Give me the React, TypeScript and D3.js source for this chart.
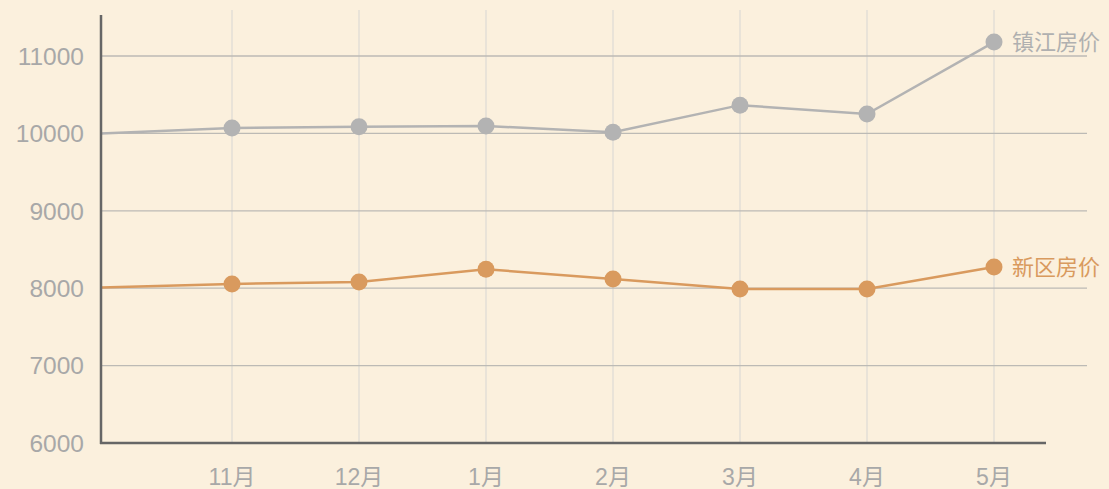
import React from 'react';
import * as d3 from 'd3';

// months (first one has no dot / label, the line just comes in from the axis)
const months = ['10月', '11月', '12月', '1月', '2月', '3月', '4月', '5月'];
const zhenjiang = [10000, 10070, 10085, 10095, 10015, 10365, 10250, 11180];
const xinqu = [8010, 8055, 8080, 8245, 8120, 7990, 7990, 8275];
const yTicks = [6000, 7000, 8000, 9000, 10000, 11000];
const seriesNames = ['镇江房价', '新区房价'];

const W = 1109;
const H = 489;
const bg = '#fbf0dd';
const grayC = '#b3b3b3';
const orangeC = '#d99a5e';
const textC = '#a8a8a8';
const font = '"Liberation Sans", Arial, "Noto Sans CJK SC", sans-serif';

const App = () => {
  const left = 101;
  const bottom = 443;

  const x = d3.scalePoint<string>().domain(months).range([105, 994]).padding(0);
  const y = d3.scaleLinear().domain([6000, 11000]).range([bottom, 56]);

  // first point sits on the y axis
  const line = d3
    .line<number>()
    .x((d, i) => (i === 0 ? left : (x(months[i]) as number)))
    .y((d) => y(d));

  const series = [
    { name: seriesNames[0], values: zhenjiang, color: grayC, text: '#b0b0b0' },
    { name: seriesNames[1], values: xinqu, color: orangeC, text: orangeC },
  ];

  return (
    <svg
      width={W}
      height={H}
      style={{ position: 'absolute', left: 0, top: 0, background: bg, fontFamily: font }}
    >
      <rect width={W} height={H} fill={bg} />

      {/* vertical grid */}
      {months.slice(1).map((m) => (
        <line key={m} x1={x(m)} x2={x(m)} y1={10} y2={bottom} stroke="#dedbd5" strokeWidth={1.2} />
      ))}

      {/* horizontal grid + y labels */}
      {yTicks.map((t) => (
        <g key={t}>
          {t > 6000 && (
            <line x1={left} x2={1087} y1={y(t)} y2={y(t)} stroke="#bcbab5" strokeWidth={1.3} />
          )}
          <text x={84} y={y(t)} dy="0.36em" textAnchor="end" fontSize={24.5} fill={textC}>
            {t}
          </text>
        </g>
      ))}

      {/* x labels */}
      {months.slice(1).map((m) => (
        <text key={m} x={x(m)} y={485} textAnchor="middle" fontSize={23} fill={textC}>
          {m}
        </text>
      ))}

      {/* lines */}
      {series.map((s) => (
        <g key={s.name}>
          <path d={line(s.values) || ''} fill="none" stroke={s.color} strokeWidth={2.5} />
          {s.values.slice(1).map((v, i) => (
            <circle key={i} cx={x(months[i + 1])} cy={y(v)} r={8.5} fill={s.color} />
          ))}
          <text
            x={1012}
            y={y(s.values[s.values.length - 1])}
            dy="0.35em"
            fontSize={22}
            fill={s.text}
          >
            {s.name}
          </text>
        </g>
      ))}

      {/* axes */}
      <line x1={left} x2={left} y1={15} y2={bottom + 1} stroke="#666" strokeWidth={2.5} />
      <line x1={left - 1} x2={1046} y1={bottom} y2={bottom} stroke="#666" strokeWidth={2.5} />
    </svg>
  );
};

export default App;
